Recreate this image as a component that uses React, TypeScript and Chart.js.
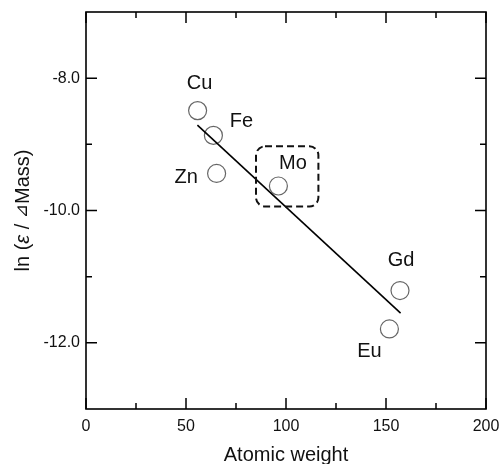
import React, { useEffect, useRef } from "react";
import { Chart, registerables } from "chart.js";

Chart.register(...registerables);

const elements = ["Cu", "Fe", "Zn", "Mo", "Eu", "Gd"];
const atomicWeights = [55.8, 63.7, 65.3, 96.2, 151.7, 157.0];
const lnValues = [-8.49, -8.865, -9.44, -9.63, -11.79, -11.21];

const fitX = [55.7, 157.3];
const fitY = [-8.71, -11.55];

const xMajorTicks = [0, 50, 100, 150, 200];
const xMinorTicks = [25, 75, 125, 175];
const yMajorTicks = [-8, -10, -12];
const yMinorTicks = [-9, -11];

const boxX = [85, 116.2];
const boxY = [-9.03, -9.94];

// label offsets in pixels (style)
const labelOffsets: Record<string, [number, number]> = {
  Cu: [2, -27],
  Fe: [28, -13.5],
  Zn: [-30.5, 4],
  Mo: [14.5, -22.5],
  Eu: [-20, 22.5],
  Gd: [1, -30.5],
};

const FONT = "Arial, 'Liberation Sans', sans-serif";

const framePlugin = {
  id: "framePlugin",
  afterDatasetsDraw(chart: any) {
    const { ctx, chartArea, scales } = chart;
    const { left, right, top, bottom } = chartArea;
    const xs = scales.x;
    const ys = scales.y;
    ctx.save();
    ctx.strokeStyle = "#000";
    ctx.lineWidth = 1.6;
    ctx.strokeRect(left, top, right - left, bottom - top);
    const drawX = (v: number, len: number) => {
      const px = xs.getPixelForValue(v);
      ctx.beginPath();
      ctx.moveTo(px, bottom);
      ctx.lineTo(px, bottom - len);
      ctx.moveTo(px, top);
      ctx.lineTo(px, top + len);
      ctx.stroke();
    };
    const drawY = (v: number, len: number) => {
      const py = ys.getPixelForValue(v);
      ctx.beginPath();
      ctx.moveTo(left, py);
      ctx.lineTo(left + len, py);
      ctx.moveTo(right, py);
      ctx.lineTo(right - len, py);
      ctx.stroke();
    };
    ctx.lineWidth = 1.5;
    xMajorTicks.forEach((v) => drawX(v, 11));
    xMinorTicks.forEach((v) => drawX(v, 6));
    yMajorTicks.forEach((v) => drawY(v, 11));
    yMinorTicks.forEach((v) => drawY(v, 6));

    ctx.fillStyle = "#111";
    ctx.font = `20px ${FONT}`;
    ctx.textAlign = "center";
    ctx.textBaseline = "middle";
    elements.forEach((el, i) => {
      const px = xs.getPixelForValue(atomicWeights[i]);
      const py = ys.getPixelForValue(lnValues[i]);
      const off = labelOffsets[el] || [0, 0];
      ctx.fillText(el, px + off[0], py + off[1]);
    });

    const bx0 = xs.getPixelForValue(boxX[0]);
    const bx1 = xs.getPixelForValue(boxX[1]);
    const by0 = ys.getPixelForValue(boxY[0]);
    const by1 = ys.getPixelForValue(boxY[1]);
    ctx.setLineDash([7, 4]);
    ctx.lineWidth = 2;
    ctx.strokeStyle = "#111";
    ctx.beginPath();
    const r = 9;
    ctx.moveTo(bx0 + r, by0);
    ctx.lineTo(bx1 - r, by0);
    ctx.arcTo(bx1, by0, bx1, by0 + r, r);
    ctx.lineTo(bx1, by1 - r);
    ctx.arcTo(bx1, by1, bx1 - r, by1, r);
    ctx.lineTo(bx0 + r, by1);
    ctx.arcTo(bx0, by1, bx0, by1 - r, r);
    ctx.lineTo(bx0, by0 + r);
    ctx.arcTo(bx0, by0, bx0 + r, by0, r);
    ctx.closePath();
    ctx.stroke();
    ctx.setLineDash([]);

    const cy = (top + bottom) / 2;
    ctx.translate(23, cy);
    ctx.rotate(-Math.PI / 2);
    ctx.textBaseline = "middle";
    ctx.textAlign = "left";
    const parts: [string, string][] = [
      ["ln (", `20px ${FONT}`],
      ["ε", `italic 20px ${FONT}`],
      [" / ", `20px ${FONT}`],
      ["⊿", `17px 'DejaVu Sans', ${FONT}`],
      ["Mass)", `20px ${FONT}`],
    ];
    let total = 0;
    parts.forEach(([t, f]) => {
      ctx.font = f;
      total += ctx.measureText(t).width;
    });
    let x = -total / 2;
    parts.forEach(([t, f]) => {
      ctx.font = f;
      ctx.fillText(t, x, 0);
      x += ctx.measureText(t).width;
    });
    ctx.restore();
  },
};

export default function App() {
  const ref = useRef<HTMLCanvasElement | null>(null);
  useEffect(() => {
    document.body.style.margin = "0";
    if (!ref.current) return;
    const chart = new Chart(ref.current, {
      type: "scatter",
      data: {
        datasets: [
          {
            type: "line",
            data: fitX.map((x, i) => ({ x, y: fitY[i] })),
            borderColor: "#000",
            borderWidth: 1.6,
            pointRadius: 0,
            showLine: true,
            fill: false,
          } as any,
          {
            data: atomicWeights.map((x, i) => ({ x, y: lnValues[i] })),
            pointRadius: 9,
            pointBorderColor: "#666",
            pointBorderWidth: 1.2,
            pointBackgroundColor: "rgba(0,0,0,0)",
            backgroundColor: "rgba(0,0,0,0)",
            borderColor: "#666",
          },
        ],
      },
      options: {
        animation: false,
        responsive: false,
        devicePixelRatio: 1,
        layout: { padding: { top: 12, right: 14, left: 0, bottom: 0 } },
        plugins: { legend: { display: false }, tooltip: { enabled: false } },
        scales: {
          x: {
            type: "linear",
            min: 0,
            max: 200,
            grid: { display: false, drawTicks: false },
            border: { display: false },
            afterBuildTicks: (axis: any) => {
              axis.ticks = xMajorTicks.map((v) => ({ value: v }));
            },
            afterFit: (axis: any) => {
              axis.height = 55;
              axis.paddingLeft = 0;
              axis.paddingRight = 0;
            },
            ticks: {
              color: "#111",
              padding: 8,
              maxRotation: 0,
              font: { size: 16, family: FONT },
              callback: (v: any) => String(v),
            },
            title: {
              display: true,
              text: "Atomic weight",
              color: "#111",
              font: { size: 20, family: FONT },
              padding: { top: 0, bottom: -3 },
            },
          },
          y: {
            type: "linear",
            min: -13,
            max: -7,
            grid: { display: false, drawTicks: false },
            border: { display: false },
            afterBuildTicks: (axis: any) => {
              axis.ticks = yMajorTicks.map((v) => ({ value: v }));
            },
            afterFit: (axis: any) => {
              axis.width = 86;
              axis.paddingTop = 0;
              axis.paddingBottom = 0;
            },
            ticks: {
              color: "#111",
              padding: 6,
              font: { size: 16, family: FONT },
              callback: (v: any) => Number(v).toFixed(1),
            },
          },
        },
      },
      plugins: [framePlugin],
    });
    return () => chart.destroy();
  }, []);
  return (
    <div style={{ position: "fixed", left: 0, top: 0, width: 500, height: 464, background: "#fff" }}>
      <canvas ref={ref} width={500} height={464} style={{ width: 500, height: 464 }} />
    </div>
  );
}
